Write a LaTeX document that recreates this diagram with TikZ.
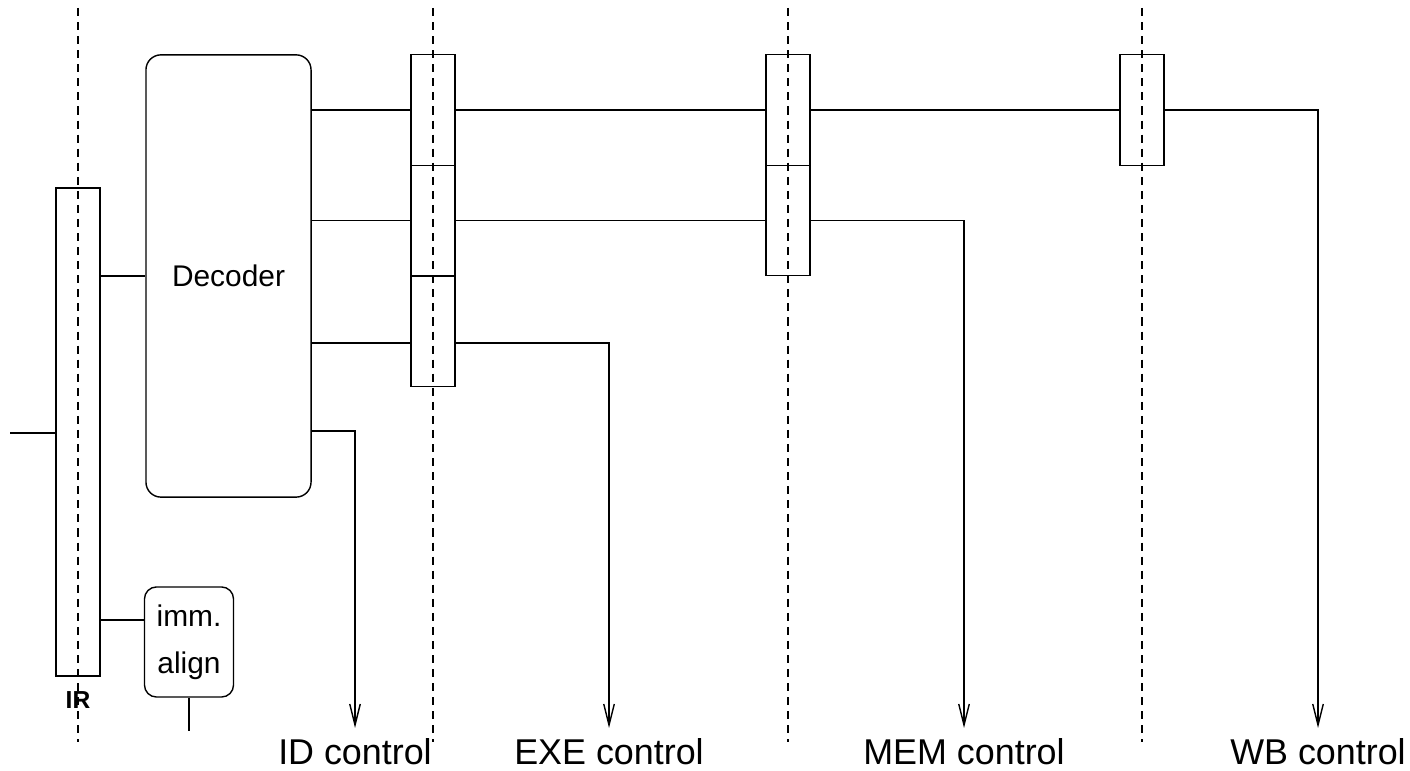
\documentclass[tikz,border=0pt]{standalone}
\usepackage{fontspec}
\setmainfont{Liberation Sans}
\usepackage{tikz}
\usetikzlibrary{arrows.meta}

\tikzset{
  reg/.style={draw,rectangle,inner sep=0pt,minimum width=0.44cm,minimum height=1.105cm},
  unit/.style={draw,rectangle,rounded corners=0.15cm,inner sep=0pt},
  stage/.style={dash pattern=on 2.3pt off 1.7pt},
  ctrl/.style={-{Straight Barb[length=6pt,width=3pt]}},
  lbl/.style={anchor=north,inner sep=0pt,font=\fontsize{10.2}{12}\selectfont}
}

\begin{document}
\begin{tikzpicture}[x=0.01cm,y=-0.01cm,line width=0.4pt]
  \useasboundingbox (0,0) rectangle (1410,771);
  \foreach \x in {78,433,788,1142}
    \draw[stage] (\x,8) -- (\x,742);
  \node[draw,inner sep=0pt,minimum width=0.44cm,minimum height=4.88cm] (ir) at (78,432) {};
  \node[inner sep=0pt,font=\bfseries\fontsize{7}{8}\selectfont] (irname) at (78,700) {IR};
  \node[unit,minimum width=1.65cm,minimum height=4.42cm,font=\fontsize{8.5}{10}\selectfont] (dec) at (228.5,276) {Decoder};
  \node[unit,rounded corners=0.12cm,minimum width=0.89cm,minimum height=1.1cm,align=center,font=\fontsize{8.5}{13.4}\selectfont] (imm) at (189,642) {imm.\\align};
  \node[reg] (ex1) at (433,110) {};
  \node[reg] (ex2) at (433,220.5) {};
  \node[reg] (ex3) at (433,331.5) {};
  \node[reg] (mem1) at (788,110) {};
  \node[reg] (mem2) at (788,220.5) {};
  \node[reg] (wb1) at (1142,110) {};
  \coordinate (irin) at (10,433);
  \coordinate (immout) at (189,731);
  \coordinate (idc) at (355,728);
  \coordinate (exec) at (609,728);
  \coordinate (memc) at (964,728);
  \coordinate (wbc) at (1318,728);
  \draw (irin) -- (ir.west |- irin);
  \draw (ir.east |- dec.west) -- (dec.west);
  \draw (ir.east |- 0,620) -- (imm.west |- 0,620);
  \draw (imm.south) -- (immout);
  \draw (dec.east |- ex1.west) -- (ex1.west);
  \draw (ex1.east) -- (mem1.west);
  \draw (mem1.east) -- (wb1.west);
  \draw[ctrl] (wb1.east) -| (wbc);
  \draw (dec.east |- ex2.west) -- (ex2.west);
  \draw (ex2.east) -- (mem2.west);
  \draw[ctrl] (mem2.east) -| (memc);
  \draw (dec.east |- 0,343) -- (ex3.west |- 0,343);
  \draw[ctrl] (ex3.east |- 0,343) -| (exec);
  \draw[ctrl] (dec.east |- 0,431) -| (idc);
  \node[lbl] (idlbl) at (355,738) {ID control};
  \node[lbl] (exelbl) at (609,738) {EXE control};
  \node[lbl] (memlbl) at (964,738) {MEM control};
  \node[lbl] (wblbl) at (1318,738) {WB control};
\end{tikzpicture}
\end{document}
